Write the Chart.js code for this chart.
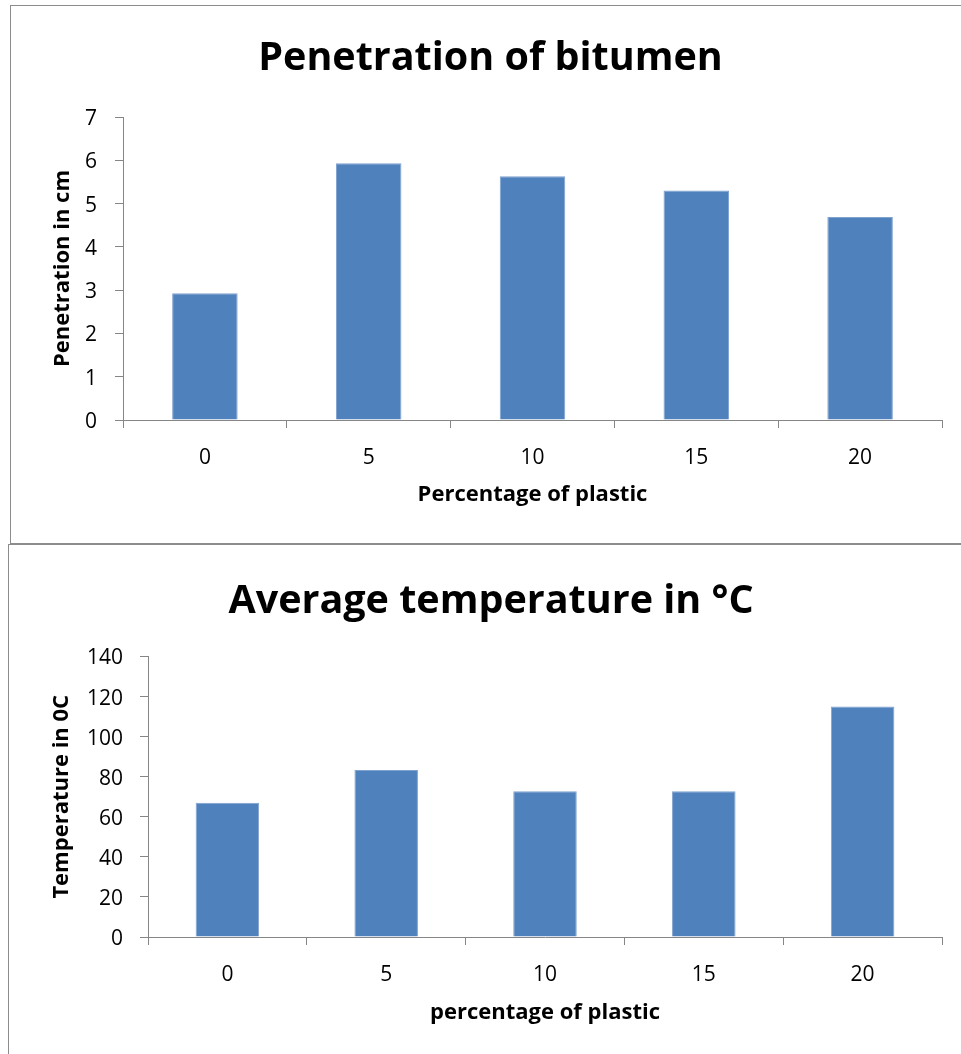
<!DOCTYPE html>
<html>
<head>
<meta charset="utf-8">
<script src="https://cdn.jsdelivr.net/npm/chart.js@4"></script>
<style>
  html, body { margin: 0; padding: 0; background: #fff; overflow: hidden; }
  body { width: 961px; height: 1054px; position: relative; }
  .box { position: absolute; border: 1px solid #8c8c8c; background: #fff; }
  #box1 { left: 10px; top: 5px; width: 990px; height: 537px; }
  #box2 { left: 8px; top: 544px; width: 990px; height: 560px; }
  canvas { position: absolute; left: 0; top: 0; }
</style>
</head>
<body>
<div class="box" id="box1"><canvas id="pen" width="950" height="537"></canvas></div>
<div class="box" id="box2"><canvas id="temp" width="952" height="509"></canvas></div>
<script>
// plastic percentages on the x axis
categories = ['0', '5', '10', '15', '20']

// penetration of bitumen, cm
penetration = [2.93, 5.93, 5.63, 5.30, 4.69]

// average temperature, deg C
temperature = [67, 83.3, 72.8, 72.8, 115]

bar_color = '#4F81BD'
axis_color = '#868686'
font_family = '"Open Sans", sans-serif'

function make_chart(id, values, y_max, y_step, title, y_title, x_title, lay) {
    var ctx = document.getElementById(id).getContext('2d');
    return new Chart(ctx, {
        type: 'bar',
        data: {
            labels: categories,
            datasets: [{
                data: values,
                backgroundColor: bar_color,
                borderColor: '#7fa2cf',
                borderWidth: { top: 1, left: 1, right: 1, bottom: 0 },
                categoryPercentage: 0.4,
                barPercentage: 1.0,
            }]
        },
        options: {
            responsive: false,
            animation: false,
            // left/right padding also centres the title box like the original
            layout: { padding: { left: lay.left, right: lay.right, top: 0, bottom: 0 } },
            scales: {
                x: {
                    grid: { offset: true, drawOnChartArea: false, color: axis_color, tickLength: 8, tickColor: axis_color },
                    border: { color: axis_color, width: 1 },
                    ticks: { color: '#000', padding: lay.x_pad, font: { family: font_family, size: 21 } },
                    title: {
                        display: true, text: x_title, color: '#000',
                        font: { family: font_family, size: 22, weight: 'bold' },
                        padding: { top: 0, bottom: lay.x_title_pad }
                    },
                    afterFit: function(scale) { scale.height = lay.x_height }
                },
                y: {
                    min: 0,
                    max: y_max,
                    grid: { drawOnChartArea: false, color: axis_color, tickLength: 8, tickColor: axis_color },
                    border: { color: axis_color, width: 1 },
                    ticks: { stepSize: y_step, color: '#000', padding: lay.y_pad, labelOffset: 2, font: { family: font_family, size: 21 } },
                    title: {
                        display: true, text: y_title, color: '#000',
                        font: { family: font_family, size: 22, weight: 'bold' },
                        padding: { top: lay.y_title_pad, bottom: 0 }
                    },
                    afterFit: function(scale) { scale.width = lay.y_width }
                }
            },
            plugins: {
                legend: { display: false },
                tooltip: { enabled: false },
                title: {
                    display: true, text: title, color: '#000',
                    font: { family: font_family, size: 39.5, weight: 'bold' },
                    padding: { top: lay.t_top, bottom: lay.t_bottom }
                }
            }
        }
    });
}

make_chart('pen', penetration, 7, 1, 'Penetration of bitumen', 'Penetration in cm', 'Percentage of plastic',
    { left: 28, right: 19, x_pad: 17, x_title_pad: 35, x_height: 123, y_pad: 18, y_title_pad: 11, y_width: 84, t_top: 29.3, t_bottom: 34.3 })

make_chart('temp', temperature, 140, 20, 'Average temperature in \u00B0C', 'Temperature in 0C', 'percentage of plastic',
    { left: 31, right: 19, x_pad: 17, x_title_pad: 28, x_height: 117, y_pad: 17, y_title_pad: 9, y_width: 108, t_top: 33.3, t_bottom: 30.8 })
</script>
</body>
</html>
